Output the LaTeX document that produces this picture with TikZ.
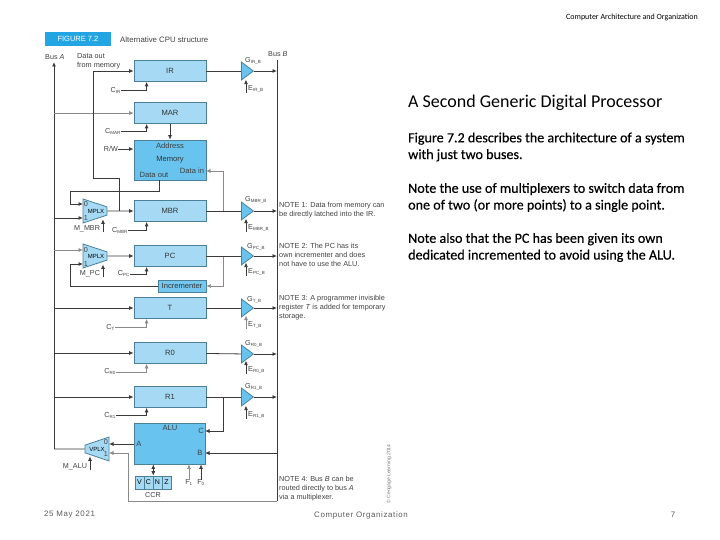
\documentclass[tikz,border=0pt]{standalone}
\usepackage{fontspec}
\setmainfont{Carlito}
\newfontfamily\bodyfont[FakeBold=0.4]{Carlito}
\newfontfamily\diagfont{Liberation Sans}
\newfontfamily\footfont[LetterSpace=8]{Liberation Sans}
\usetikzlibrary{arrows.meta,shapes.geometric}
\definecolor{reglight}{HTML}{A6DAF4}
\definecolor{regdark}{HTML}{68C4EE}
\definecolor{regedge}{HTML}{4C8099}
\definecolor{headblue}{HTML}{23A5E3}
\definecolor{wiredark}{HTML}{3A3A3A}
\definecolor{wirepale}{HTML}{8A8A8A}
\newcommand{\sbs}[1]{\textsubscript{\fontsize{4.5}{4.5}\selectfont #1}}
\tikzset{
  reg/.style={draw=regedge,line width=0.8pt,fill=reglight,minimum width=72pt,minimum height=21pt,inner sep=0pt,font=\diagfont\fontsize{7.6}{8}\selectfont,text=black!80},
  darkreg/.style={reg,fill=regdark},
  gate/.style={isosceles triangle,isosceles triangle stretches,draw=regedge,line width=0.8pt,fill=regdark,minimum width=18pt,minimum height=12pt,inner sep=0pt,anchor=lower side},
  mux/.style={trapezium,trapezium stretches=true,draw=regedge,line width=0.8pt,fill=reglight,minimum width=24pt,minimum height=24pt,inner sep=0pt,font=\diagfont\fontsize{6}{7}\selectfont},
  ccrcell/.style={draw=regedge,line width=0.6pt,fill=reglight,minimum width=9pt,minimum height=13pt,inner sep=0pt,font=\diagfont\fontsize{7}{8}\selectfont},
  lbl/.style={inner sep=0pt,font=\diagfont\fontsize{7.2}{8}\selectfont,text=black!75},
  inlbl/.style={lbl,font=\diagfont\fontsize{7.6}{8}\selectfont},
  note/.style={lbl,anchor=west,align=left,font=\diagfont\fontsize{7.3}{9}\selectfont},
  wire/.style={-{Latex[length=4.5pt,width=4pt]},draw=wiredark,line width=0.8pt},
  pale/.style={wire,draw=wirepale,line width=0.6pt},
  plain/.style={draw=wiredark,line width=0.8pt},
  bodytext/.style={anchor=west,align=left,inner sep=0pt,font=\bodyfont\fontsize{14.1}{16.7}\selectfont},
  foot/.style={inner sep=0pt,font=\footfont\fontsize{7.9}{8}\selectfont,text=black!65}
}
\begin{document}
\begin{tikzpicture}[x=1pt,y=-1pt]
\useasboundingbox (0,0) rectangle (720,540);
% slide text
\node[inner sep=0pt,anchor=east,font=\fontsize{8}{9}\selectfont] (pagehead) at (698,17) {Computer Architecture and Organization};
\node[bodytext,font=\fontsize{18}{20}\selectfont] (slidetitle) at (408,103) {A Second Generic Digital Processor};
\node[bodytext] (para1) at (408,147) {Figure 7.2 describes the architecture of a system\\with just two buses.};
\node[bodytext] (para2) at (408,197.5) {Note the use of multiplexers to switch data from\\one of two (or more points) to a single point.};
\node[bodytext] (para3) at (408,247.5) {Note also that the PC has been given its own\\dedicated incremented to avoid using the ALU.};
\node[foot,anchor=west] (footdate) at (44,515) {25 May 2021};
\node[foot,anchor=west] (footname) at (314,515) {Computer Organization};
\node[foot] (footpage) at (673,515) {7};
% figure heading
\node[fill=headblue,text=white,minimum width=66pt,minimum height=14pt,inner sep=0pt,font=\diagfont\fontsize{7.5}{8}\selectfont] (fighead) at (78,39) {FIGURE 7.2};
\node[lbl,anchor=west,font=\diagfont\fontsize{7.8}{8}\selectfont] (figcap) at (120,39.5) {Alternative CPU structure};
% registers
\node[reg] (ir) at (170,71) {IR};
\node[reg] (mar) at (170,113) {MAR};
\node[darkreg,minimum height=40pt] (mem) at (170,160) {Memory};
\node[reg] (mbr) at (170,211) {MBR};
\node[reg] (pc) at (170,256) {PC};
\node[darkreg,minimum width=48pt,minimum height=12pt,fill=regdark!80!reglight] (incr) at (182,286) {Incrementer};
\node[reg] (treg) at (170,308) {T};
\node[reg] (rzero) at (170,353) {R0};
\node[reg] (rone) at (170,397) {R1};
\node[darkreg,minimum width=71pt,minimum height=41pt] (alu) at (169.5,443.5) {};
\node[inlbl] (addr) at (170,146) {Address};
\node[inlbl] (dout) at (154,175) {Data out};
\node[inlbl] (din) at (192,171) {Data in};
\node[inlbl] (alutext) at (170,428) {ALU};
\node[inlbl] (aluc) at (201,431) {C};
\node[inlbl] (alub) at (200,453) {B};
\node[inlbl] (alua) at (139,444) {A};
% condition codes
\node[ccrcell] (ccrv) at (139.5,482.5) {V};
\node[ccrcell] (ccrc) at (148.5,482.5) {C};
\node[ccrcell] (ccrn) at (157.5,482.5) {N};
\node[ccrcell] (ccrz) at (166.5,482.5) {Z};
\node[lbl] (ccrtext) at (153,495) {CCR};
% multiplexers
\node[mux,shape border rotate=270,trapezium left angle=78,trapezium right angle=78] (mbrmux) at (95,211) {\hspace*{2pt}MPLX};
\node[mux,shape border rotate=270,trapezium left angle=78,trapezium right angle=78] (pcmux) at (95,256) {\hspace*{2pt}MPLX};
\node[mux,shape border rotate=90,trapezium left angle=74,trapezium right angle=74] (alumux) at (97,449) {VPLX};
\node[lbl] at (86,204) {0};
\node[lbl] at (86,218) {1};
\node[lbl] at (86,250) {0};
\node[lbl] at (86,264) {1};
\node[lbl] at (106,442) {0};
\node[lbl] at (106,454) {1};
% bus gates
\node[gate] (irgate) at (241,71) {};
\node[gate] (mbrgate) at (241,211) {};
\node[gate] (pcgate) at (241,256) {};
\node[gate] (tgate) at (241,308) {};
\node[gate] (rzerogate) at (241,354) {};
\node[gate] (ronegate) at (241,397) {};
% labels
\node[lbl,anchor=west] (busalbl) at (45,57) {Bus \textit{A}};
\node[lbl,anchor=west] (busblbl) at (268,54) {Bus \textit{B}};
\node[lbl,anchor=west,align=left,font=\diagfont\fontsize{7.3}{9}\selectfont] (datalbl) at (77,61.5) {Data out\\from memory};
\node[lbl,anchor=east] (cir) at (121,90) {C\sbs{IR}};
\node[lbl,anchor=east] (cmar) at (121,131) {C\sbs{MAR}};
\node[lbl,anchor=east] (rw) at (118,149) {R/W};
\node[lbl,anchor=east] (cmbr) at (128,230) {C\sbs{MBR}};
\node[lbl,anchor=east] (cpc) at (130,274) {C\sbs{PC}};
\node[lbl,anchor=east] (ct) at (115,327) {C\sbs{T}};
\node[lbl,anchor=east] (crzero) at (116,372) {C\sbs{R0}};
\node[lbl,anchor=east] (crone) at (116,415) {C\sbs{R1}};
\node[lbl] (mmbr) at (87,229) {M\_MBR};
\node[lbl] (mpc) at (90,274) {M\_PC};
\node[lbl] (malu) at (75,467) {M\_ALU};
\node[lbl] (fone) at (189,483) {F\sbs{1}};
\node[lbl] (fzero) at (201,483) {F\sbs{0}};
\node[lbl,anchor=west] (gir) at (245,61) {G\sbs{IR\_B}};
\node[lbl,anchor=west] (gmbr) at (245,200) {G\sbs{MBR\_B}};
\node[lbl,anchor=west] (gpc) at (247,247) {G\sbs{PC\_B}};
\node[lbl,anchor=west] (gt) at (247,300) {G\sbs{T\_B}};
\node[lbl,anchor=west] (grzero) at (245,344) {G\sbs{R0\_B}};
\node[lbl,anchor=west] (grone) at (245,387) {G\sbs{R1\_B}};
\node[lbl,anchor=west] (eir) at (248,89) {E\sbs{IR\_B}};
\node[lbl,anchor=west] (embr) at (248,228) {E\sbs{MBR\_B}};
\node[lbl,anchor=west] (epc) at (248,272) {E\sbs{PC\_B}};
\node[lbl,anchor=west] (et) at (248,325) {E\sbs{T\_B}};
\node[lbl,anchor=west] (erzero) at (248,370) {E\sbs{R0\_B}};
\node[lbl,anchor=west] (erone) at (248,415) {E\sbs{R1\_B}};
% notes
\node[note] (note1) at (279,210) {NOTE 1: Data from memory can\\be directly latched into the IR.};
\node[note] (note2) at (279,255) {NOTE 2: The PC has its\\own incrementer and does\\not have to use the ALU.};
\node[note] (note3) at (279,308) {NOTE 3: A programmer invisible\\register \textit{T} is added for temporary\\storage.};
\node[note] (note4) at (279,489) {NOTE 4: Bus \textit{B} can be\\routed directly to bus \textit{A}\\via a multiplexer.};
\node[lbl,rotate=90,text=black!55,font=\diagfont\fontsize{5}{6}\selectfont] (copyr) at (389,474) {© Cengage Learning 2014};
% fixed points
\coordinate (busatop) at (54,62);
\coordinate (busabot) at (54,449);
\coordinate (busbtop) at (277,60);
\coordinate (busbbot) at (277,501);
\coordinate (irjog) at (93,178);
\coordinate (mbrtap) at (119,211);
\coordinate (dataout) at (159,180);
\coordinate (mbrloop) at (70,191);
\coordinate (mbrzero) at (83,204);
\coordinate (mbrone) at (83,218);
\coordinate (pczero) at (83,250);
\coordinate (pcone) at (83,264);
\coordinate (pcloop) at (70,264);
\coordinate (memin) at (206,171);
\coordinate (mbrout) at (223,211);
\coordinate (pcout) at (223,256);
\coordinate (roneout) at (223,397);
\coordinate (aluin) at (205,431);
\coordinate (aluinb) at (205,453);
\coordinate (aluout) at (134,444);
\coordinate (alumuxzero) at (109,444);
\coordinate (alumuxone) at (109,453);
\coordinate (alujog) at (128,453);
% buses
\draw[wire,line width=1pt] (busabot) -- (busatop);
\draw[plain,line width=1pt] (busbbot) -- (busbtop);
\draw[plain] (busabot) -- (alumux);
% bus A into registers
\draw[pale] (busatop |- mar) -- (mar);
\draw[wire] (busatop |- mbrone) -- (mbrone);
\draw[pale] (busatop |- pczero) -- (pczero);
\draw[wire] (busatop |- treg) -- (treg);
\draw[wire] (busatop |- rzero) -- (rzero);
\draw[wire] (busatop |- rone) -- (rone);
% memory and multiplexer paths
\draw[wire] (mar) -- (addr |- mem.north);
\draw[wire] (mbrtap) |- (irjog) |- (ir);
\draw[wire] (dataout) |- (mbrloop) |- (mbrzero);
\draw[wire] (mbrmux) -- (mbr);
\draw[wire] (pcmux) -- (pc);
\draw[pale] (mbrout) |- (memin);
\draw[wire] (incr) -| (pcloop) -- (pcone);
\draw[pale] (pcout) |- (incr);
\draw[wire] (roneout) |- (aluin);
\draw[wire] (busbtop |- aluinb) -- (aluinb);
\draw[wire] (aluout) -- (alumuxzero);
\draw[pale] (busbbot) -| (alujog) -- (alumuxone);
% register to gate to bus B
\draw[plain] (ir) -- (irgate);
\draw[plain] (mbr) -- (mbrgate);
\draw[plain] (pc) -- (pcgate);
\draw[plain] (treg) -- (tgate);
\draw[plain] (rzero) -- (rzerogate);
\draw[plain] (rone) -- (ronegate);
\draw[wire] (irgate.apex) -- (irgate.apex -| busbtop);
\draw[wire] (mbrgate.apex) -- (mbrgate.apex -| busbtop);
\draw[wire] (pcgate.apex) -- (pcgate.apex -| busbtop);
\draw[wire] (tgate.apex) -- (tgate.apex -| busbtop);
\draw[wire] (rzerogate.apex) -- (rzerogate.apex -| busbtop);
\draw[wire] (ronegate.apex) -- (ronegate.apex -| busbtop);
% control lines
\draw[wire] (cir) -| ([xshift=13pt]ir.south west);
\draw[wire] (cmar) -| ([xshift=13pt]mar.south west);
\draw[wire] (rw) -- (rw -| mem.west);
\draw[wire] (cmbr) -| ([xshift=13pt]mbr.south west);
\draw[wire] (cpc) -| ([xshift=13pt]pc.south west);
\draw[pale] (ct) -| ([xshift=13pt]treg.south west);
\draw[pale] (crzero) -| ([xshift=13pt]rzero.south west);
\draw[wire] (crone) -| ([xshift=13pt]rone.south west);
\draw[wire] ([xshift=16pt]mmbr.south) -- ++(0,-13);
\draw[wire] ([xshift=13pt]mpc.south) -- ++(0,-13);
\draw[wire] ([xshift=15pt]malu.south) -- ++(0,-14);
\draw[wire] ([xshift=-2pt]eir.south west) -- ++(0,-13);
\draw[wire] ([xshift=-2pt]embr.south west) -- ++(0,-13);
\draw[wire] ([xshift=-2pt]epc.south west) -- ++(0,-13);
\draw[pale] ([xshift=-2pt]et.south west) -- ++(0,-13);
\draw[wire] ([xshift=-2pt]erzero.south west) -- ++(0,-13);
\draw[wire] ([xshift=-2pt]erone.south west) -- ++(0,-13);
\draw[wire,{Latex[length=4.5pt,width=4pt]}-{Latex[length=4.5pt,width=4pt]}] (ccrc.north east) -- (ccrc.north east |- alu.south);
\draw[pale] (fone.north) -- (fone |- alu.south);
\draw[wire] (fzero.north) -- (fzero |- alu.south);
\end{tikzpicture}
\end{document}
